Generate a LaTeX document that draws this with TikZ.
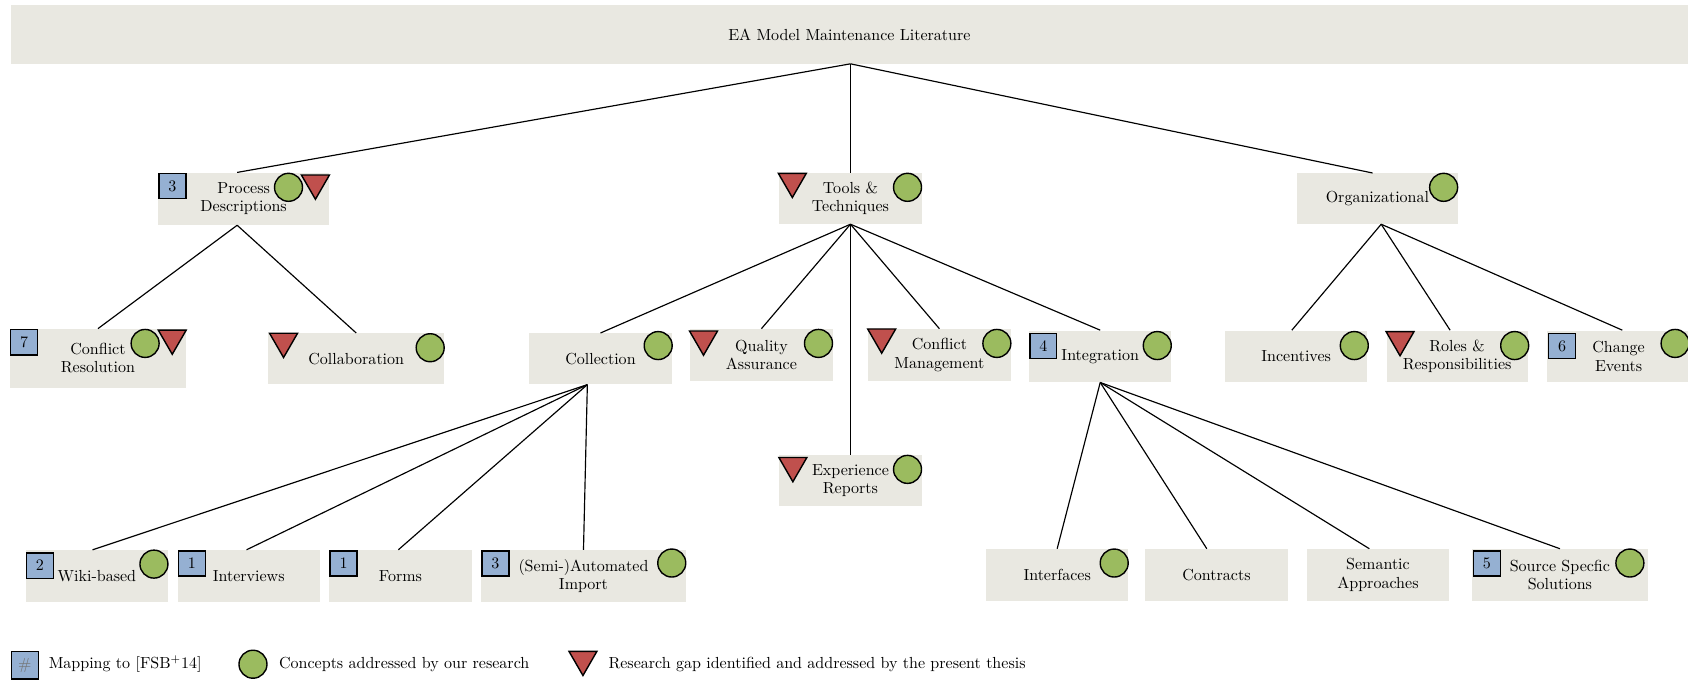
\documentclass[tikz,border=0pt]{standalone}
\usetikzlibrary{shapes.geometric,calc}
\definecolor{boxfill}{HTML}{E9E8E1}
\definecolor{mapblue}{HTML}{95B0D2}
\definecolor{okgreen}{HTML}{9BBB5F}
\definecolor{gapred}{HTML}{C0504D}
\begin{document}
\fontsize{10.3}{11.8}\selectfont
\begin{tikzpicture}[x=0.692pt,y=-0.692pt,
  every node/.style={font=\fontsize{10.3}{11.8}\selectfont},
  box/.style={fill=boxfill, inner sep=0pt, align=center},
  sz/.style 2 args={minimum width=#1*0.692pt, minimum height=#2*0.692pt},
  edge/.style={line width=0.75pt},
  mapsq/.style={draw, line width=0.9pt, fill=mapblue, anchor=north west, inner sep=0pt,
    minimum width=25*0.692pt, minimum height=23.5*0.692pt},
  concept/.style={circle, draw, line width=0.9pt, fill=okgreen, inner sep=0pt,
    minimum size=26*0.692pt},
  gap/.style={regular polygon, regular polygon sides=3, shape border rotate=180, draw,
    line width=0.9pt, fill=gapred, inner sep=0pt, minimum size=30*0.692pt},
]
\useasboundingbox (0,0) rectangle (1568,634);

% ---------- boxes ----------
\node[box, sz={1558}{54}] (root) at (789,32) {EA Model Maintenance Literature};

\node[box, sz={158.6}{48.5}] (pd)  at (226.3,184.7) {Process\\Descriptions};
\node[box, sz={132}{47}]     (tt)  at (790,184.5)   {Tools \&\\Techniques};
\node[box, sz={149}{47}]     (org) at (1279.5,184.5) {Organizational};

\node[box, sz={163}{54.5}]   (cr)   at (91,332.8)    {Conflict\\Resolution};
\node[box, sz={163.3}{47.4}] (colb) at (330.9,333.3) {Collaboration};
\node[box, sz={132.8}{47.4}] (coll) at (557.8,333.3) {Collection};
\node[box, sz={132.5}{48}]   (qa)   at (707.3,329.6) {Quality\\Assurance};
\node[box, sz={133.2}{48}]   (cm)   at (872.6,329.6) {Conflict\\Management};
\node[box, sz={132}{48}]     (int)  at (1022,331)    {Integration};
\node[box, sz={132}{48}]     (inc)  at (1204,331)    {Incentives};
\node[box, sz={131}{48}]     (rr)   at (1353.5,331)  {Roles \&\\Responsibilities};
\node[box, sz={133}{48}]     (ce)   at (1503.5,331)  {Change\\Events};
\node[box, sz={132}{47}]     (er)   at (790,446.5)   {Experience\\Reports};

\node[box, sz={132}{48}] (wiki)  at (90,535)  {Wiki-based};
\node[box, sz={132}{48}] (intv)  at (231,535) {Interviews};
\node[box, sz={132}{48}] (forms) at (372,535) {Forms};
\node[box, sz={190}{48}] (semi)  at (542,535) {(Semi-)Automated\\Import};
\node[box, sz={132}{48}] (ifc)   at (982,534)  {Interfaces};
\node[box, sz={132}{48}] (ctr)   at (1130,534) {Contracts};
\node[box, sz={132}{48}] (sem)   at (1280,534) {Semantic\\Approaches};
\node[box, sz={164}{48}] (src)   at (1449,534) {Source Specfic\\Solutions};

% ---------- connectors ----------
\coordinate (rootb) at ($(root.south)+(1,0)$);
\draw[edge] (rootb) -- ($(pd.north)+(-6,0)$);
\draw[edge] (rootb) -- (tt.north);
\draw[edge] (rootb) -- ($(org.north)+(-4.5,0)$);

\draw[edge] ($(pd.south)+(-6,0)$) -- (cr.north);
\draw[edge] ($(pd.south)+(-6,0)$) -- (colb.north);

\draw[edge] (tt.south) -- (coll.north);
\draw[edge] (tt.south) -- (qa.north);
\draw[edge] (tt.south) -- (cm.north);
\draw[edge] (tt.south) -- (int.north);
\draw[edge] (tt.south) -- (er.north);

\coordinate (orgb) at ($(org.south)+(3.5,0)$);
\draw[edge] (orgb) -- ($(inc.north)+(-4,0)$);
\draw[edge] (orgb) -- ($(rr.north)+(-6.5,0)$);
\draw[edge] (orgb) -- ($(ce.north)+(3.5,0)$);

\coordinate (collb) at ($(coll.south)+(-12.2,0)$);
\draw[edge] (collb) -- ($(wiki.north)+(-4,0)$);
\draw[edge] (collb) -- ($(intv.north)+(-2,0)$);
\draw[edge] (collb) -- ($(forms.north)+(-2,0)$);
\draw[edge] (collb) -- (semi.north);

\draw[edge] (int.south) -- (ifc.north);
\draw[edge] (int.south) -- ($(ctr.north)+(-9,0)$);
\draw[edge] (int.south) -- ($(sem.north)+(-8,0)$);
\draw[edge] (int.south) -- (src.north);

% ---------- markers ----------
\node[mapsq] (pdM) at (147,160.5) {3};
\node[concept] (pdC) at (268,174) {};
\node[gap] (pdG) at (293,170.1) {};

\node[gap] (ttG) at (736,168.5) {};
\node[concept] (ttC) at (843,174) {};

\node[concept] (orgC) at (1341,174) {};

\node[mapsq] (crM) at (9.3,305.6) {7};
\node[concept] (crC) at (134.8,319) {};
\node[gap] (crG) at (160,314.1) {};

\node[gap] (colbG) at (263.4,317.1) {};
\node[concept] (colbC) at (399.6,323) {};

\node[concept] (collC) at (611.4,321) {};

\node[gap] (qaG) at (653.5,315) {};
\node[concept] (qaC) at (760.3,319) {};

\node[gap] (cmG) at (819,313.1) {};
\node[concept] (cmC) at (926,319) {};

\node[mapsq] (intM) at (956,309) {4};
\node[concept] (intC) at (1075,321) {};

\node[concept] (incC) at (1258,321) {};

\node[gap] (rrG) at (1300.5,315.5) {};
\node[concept] (rrC) at (1407,321) {};

\node[mapsq] (ceM) at (1438,309) {6};
\node[concept] (ceC) at (1556,319) {};

\node[gap] (erG) at (736.5,432.5) {};
\node[concept] (erC) at (843,436) {};

\node[mapsq] (wikiM) at (24,513) {2};
\node[concept] (wikiC) at (143,524) {};
\node[mapsq] (intvM) at (165,511) {1};
\node[mapsq] (formsM) at (306,511) {1};
\node[mapsq] (semiM) at (447,511) {3};
\node[concept] (semiC) at (624,523) {};
\node[concept] (ifcC) at (1035,523) {};
\node[mapsq] (srcM) at (1368,511) {5};
\node[concept] (srcC) at (1514,523) {};

% ---------- legend ----------
\node[mapsq, minimum height=25.5*0.692pt, text=black!55] (lgM) at (10,604.5) {\#};
\node[anchor=west, inner sep=0pt] (lgMt) at (45,617) {Mapping to [FSB$^{+}$14]};
\node[concept] (lgC) at (235,617) {};
\node[anchor=west, inner sep=0pt] (lgCt) at (259,617) {Concepts addressed by our research};
\node[gap] (lgG) at (541.5,612.5) {};
\node[anchor=west, inner sep=0pt] (lgGt) at (565,617) {Research gap identified and addressed by the present thesis};
\end{tikzpicture}
\end{document}
